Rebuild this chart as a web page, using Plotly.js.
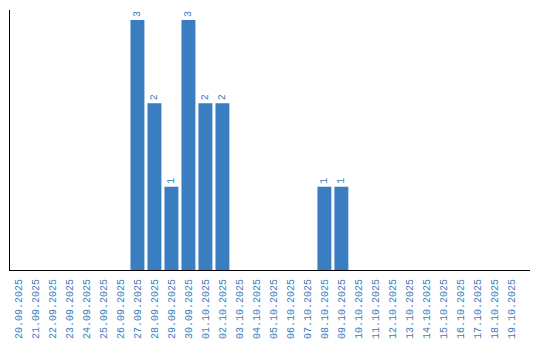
<!DOCTYPE html>
<html><head><meta charset="utf-8">
<script src="https://cdn.plot.ly/plotly-3.0.1.min.js"></script>
<style>body{margin:0;background:#fff}#c{width:540px;height:340px}</style>
</head><body><div id="c"></div>
<script>
const dates = ["20.09.2025","21.09.2025","22.09.2025","23.09.2025","24.09.2025","25.09.2025","26.09.2025","27.09.2025","28.09.2025","29.09.2025","30.09.2025","01.10.2025","02.10.2025","03.10.2025","04.10.2025","05.10.2025","06.10.2025","07.10.2025","08.10.2025","09.10.2025","10.10.2025","11.10.2025","12.10.2025","13.10.2025","14.10.2025","15.10.2025","16.10.2025","17.10.2025","18.10.2025","19.10.2025"];
const counts = [0,0,0,0,0,0,0,3,2,1,3,2,2,0,0,0,0,0,1,1,0,0,0,0,0,0,0,0,0,0];
const labels = counts.map(v => v > 0 ? String(v) : "");
const blue = "#3b7dc1";
Plotly.newPlot("c", [{
  type: "bar", x: dates, y: counts, text: labels,
  textposition: "outside", textangle: -90, constraintext: "none", cliponaxis: false,
  textfont: {family: "Liberation Mono, monospace", size: 10, color: blue},
  marker: {color: blue}, hoverinfo: "none"
}], {
  width: 540, height: 340,
  margin: {l: 10, r: 10, t: 10, b: 70},
  paper_bgcolor: "#fff", plot_bgcolor: "#fff",
  bargap: 0.18, showlegend: false,
  xaxis: {type: "category", range: [-0.5, 30.1], tickangle: -90, showgrid: false, zeroline: false,
    showline: true, linecolor: "#000", linewidth: 1, ticks: "", ticklabelstandoff: 4,
    tickfont: {family: "Liberation Mono, monospace", size: 10, color: blue}},
  yaxis: {range: [0, 3.12], showgrid: false, zeroline: false, showline: true, linecolor: "#000",
    linewidth: 1, ticks: "", showticklabels: false}
}, {staticPlot: true});
</script></body></html>
